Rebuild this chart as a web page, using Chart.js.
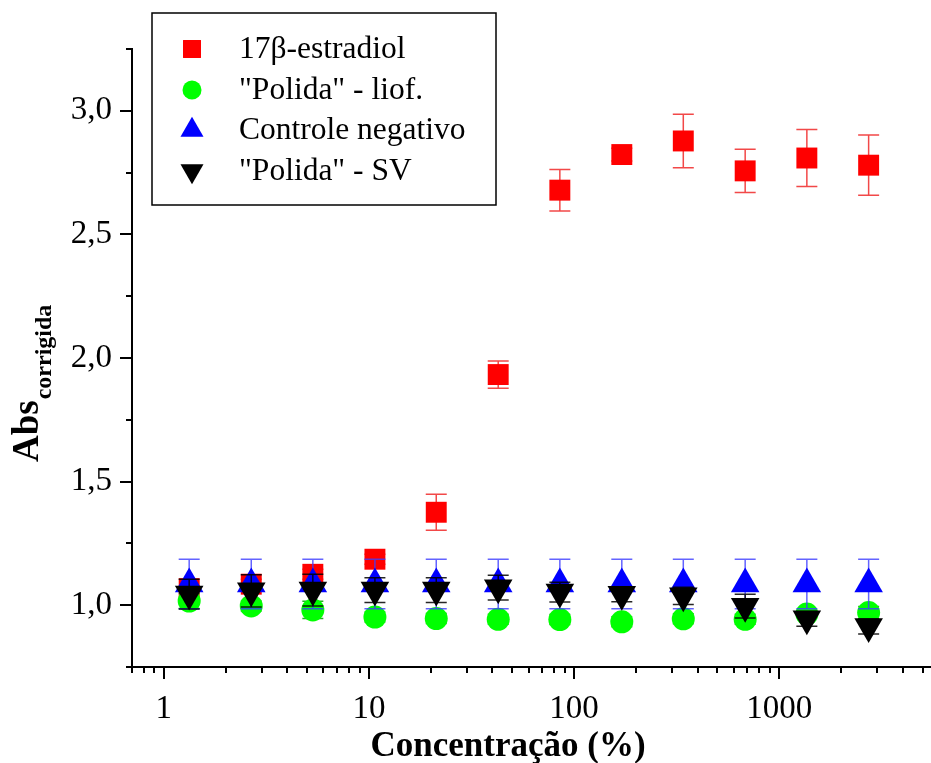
<!DOCTYPE html>
<html>
<head>
<meta charset="utf-8">
<title>Abs corrigida x Concentração</title>
<script src="https://cdn.jsdelivr.net/npm/chart.js"></script>
<style>
  html, body { margin: 0; padding: 0; background: #fff; }
  #chart { display: block; }
</style>
</head>
<body>
<canvas id="chart" width="931" height="763"></canvas>
<script>
// ---- Data ----
const concentrations = [1.33, 2.67, 5.33, 10.7, 21.3, 42.7, 85.3, 171, 341, 683, 1365, 2731];

const estradiol    = [1.067, 1.085, 1.125, 1.186, 1.376, 1.933, 2.679, 2.823, 2.878, 2.757, 2.809, 2.780];
const estradiolErr = [0.01, 0.02, 0.02, 0.02, 0.073, 0.055, 0.084, 0.026, 0.108, 0.087, 0.115, 0.122];

const polidaLiof    = [1.017, 0.997, 0.981, 0.952, 0.946, 0.943, 0.942, 0.933, 0.945, 0.943, 0.964, 0.970];
const polidaLiofErr = [0.03, 0.02, 0.035, 0.02, 0.02, 0.02, 0.02, 0.02, 0.02, 0.02, 0.01, 0.025];

const controleNeg    = [1.086, 1.086, 1.086, 1.086, 1.086, 1.086, 1.086, 1.086, 1.086, 1.086, 1.086, 1.086];
const controleNegErr = [0.1, 0.1, 0.1, 0.1, 0.1, 0.1, 0.1, 0.1, 0.1, 0.1, 0.1, 0.1];

const polidaSV    = [1.045, 1.058, 1.061, 1.061, 1.061, 1.071, 1.053, 1.044, 1.038, 0.996, 0.945, 0.914];
const polidaSVErr = [0.06, 0.065, 0.064, 0.05, 0.05, 0.05, 0.04, 0.03, 0.035, 0.048, 0.03, 0.03];

const seriesNames = ['17β-estradiol', '"Polida" - liof.', 'Controle negativo', '"Polida" - SV'];

// ---- Axes ----
const xMajorTicks = [1, 10, 100, 1000];
const xTickLabels = ['1', '10', '100', '1000'];
const yMajorTicks = [1.0, 1.5, 2.0, 2.5, 3.0];
const yTickLabels = ['1,0', '1,5', '2,0', '2,5', '3,0'];

const X_MIN = 0.7, X_MAX = 5500;
const Y_MIN = 0.75, Y_MAX = 3.25;

// minor ticks: 2..9 of every decade, 0.25 steps on y
const xTicks = [];
for (let d = 0.1; d <= 1000; d *= 10) {
  for (let m = 1; m <= 9; m++) {
    const v = Math.round(m * d * 1000) / 1000;
    if (v >= X_MIN && v <= X_MAX) xTicks.push(v);
  }
}
const yTicks = [];
for (let v = Y_MIN; v <= Y_MAX + 1e-9; v += 0.25) yTicks.push(Math.round(v * 100) / 100);

const SERIF = '"Liberation Serif", "Times New Roman", serif';

function toPoints(values) {
  return values.map((y, i) => ({ x: concentrations[i], y: y }));
}

// ---- Marker shapes (used for the legend) ----
function drawMarker(ctx, style, x, y, r, rotation) {
  ctx.beginPath();
  if (style === 'rect') {
    const s = r * Math.SQRT1_2;
    ctx.rect(x - s, y - s, 2 * s, 2 * s);
  } else if (style === 'circle') {
    ctx.arc(x, y, r, 0, Math.PI * 2);
  } else {
    let rad = (rotation || 0) * Math.PI / 180;
    ctx.moveTo(x + Math.sin(rad) * r, y - Math.cos(rad) * r);
    rad += 2 * Math.PI / 3;
    ctx.lineTo(x + Math.sin(rad) * r, y - Math.cos(rad) * r);
    rad += 2 * Math.PI / 3;
    ctx.lineTo(x + Math.sin(rad) * r, y - Math.cos(rad) * r);
    ctx.closePath();
  }
  ctx.fill();
}

// ---- Plugins ----
const errorBars = {
  id: 'errorBars',
  beforeDatasetDraw(chart, args) {
    const ds = chart.data.datasets[args.index];
    if (!ds.errors) return;
    const yScale = chart.scales.y;
    const ctx = chart.ctx;
    ctx.save();
    ctx.strokeStyle = ds.errorColor;
    ctx.lineWidth = 1.5;
    ctx.beginPath();
    args.meta.data.forEach((pt, i) => {
      const v = ds.data[i].y;
      const e = ds.errors[i];
      const top = yScale.getPixelForValue(v + e);
      const bot = yScale.getPixelForValue(v - e);
      ctx.moveTo(pt.x, top); ctx.lineTo(pt.x, bot);
      ctx.moveTo(pt.x - 10.5, top); ctx.lineTo(pt.x + 10.5, top);
      ctx.moveTo(pt.x - 10.5, bot); ctx.lineTo(pt.x + 10.5, bot);
    });
    ctx.stroke();
    ctx.restore();
  }
};

const tickMarks = {
  id: 'tickMarks',
  afterDraw(chart) {
    const { ctx, chartArea, scales } = chart;
    ctx.save();
    ctx.strokeStyle = '#000';
    ctx.lineWidth = 2;
    ctx.beginPath();
    scales.x.ticks.forEach(t => {
      const px = Math.round(scales.x.getPixelForValue(t.value));
      const len = t.label ? 12 : 6;
      ctx.moveTo(px, chartArea.bottom);
      ctx.lineTo(px, chartArea.bottom + len);
    });
    scales.y.ticks.forEach(t => {
      const py = Math.round(scales.y.getPixelForValue(t.value));
      const len = t.label ? 12 : 6;
      ctx.moveTo(chartArea.left, py);
      ctx.lineTo(chartArea.left - len, py);
    });
    ctx.stroke();
    ctx.restore();
  }
};

const axisTitles = {
  id: 'axisTitles',
  afterDraw(chart) {
    const ctx = chart.ctx;
    ctx.save();
    ctx.fillStyle = '#000';

    // x title
    ctx.font = 'bold 35px ' + SERIF;
    ctx.textAlign = 'center';
    ctx.textBaseline = 'alphabetic';
    ctx.fillText('Concentração (%)', 508, 756);

    // y title: Abs with subscript, rotated
    ctx.translate(38, 462);
    ctx.rotate(-Math.PI / 2);
    ctx.textAlign = 'left';
    ctx.font = 'bold 37px ' + SERIF;
    ctx.fillText('Abs', 0, 0);
    const w = ctx.measureText('Abs').width;
    ctx.font = 'bold 24px ' + SERIF;
    ctx.fillText('corrigida', w + 1, 13);
    ctx.restore();
  }
};

const legendBox = {
  id: 'legendBox',
  afterDraw(chart) {
    const ctx = chart.ctx;
    const rows = [49, 90, 130, 171];
    ctx.save();
    ctx.fillStyle = '#fff';
    ctx.fillRect(152, 13, 344, 192);
    ctx.strokeStyle = '#000';
    ctx.lineWidth = 1.5;
    ctx.strokeRect(152, 13, 344, 192);

    chart.data.datasets.forEach((ds, i) => {
      ctx.fillStyle = ds.backgroundColor;
      drawMarker(ctx, ds.pointStyle, 192, rows[i], ds.legendRadius, ds.rotation || 0);
      ctx.fillStyle = '#000';
      ctx.font = '31.5px ' + SERIF;
      ctx.textAlign = 'left';
      ctx.textBaseline = 'middle';
      ctx.fillText(ds.label, 239, rows[i] + 1);
    });
    ctx.restore();
  }
};

// ---- Chart ----
const datasets = [
  {
    label: seriesNames[0], data: toPoints(estradiol), errors: estradiolErr,
    backgroundColor: '#ff0000', errorColor: 'rgba(240,40,40,0.85)',
    pointStyle: 'rect', pointRadius: 14.8, legendRadius: 12.7, order: 4
  },
  {
    label: seriesNames[1], data: toPoints(polidaLiof), errors: polidaLiofErr,
    backgroundColor: '#00ff00', errorColor: 'rgba(0,160,0,0.85)',
    pointStyle: 'circle', pointRadius: 11.5, legendRadius: 9.5, order: 3
  },
  {
    label: seriesNames[2], data: toPoints(controleNeg), errors: controleNegErr,
    backgroundColor: '#0000ff', errorColor: 'rgba(60,60,255,0.8)',
    pointStyle: 'triangle', pointRadius: 16.5, legendRadius: 13.3, order: 2
  },
  {
    label: seriesNames[3], data: toPoints(polidaSV), errors: polidaSVErr,
    backgroundColor: '#000000', errorColor: 'rgba(0,0,0,0.85)',
    pointStyle: 'triangle', rotation: 180, pointRadius: 16.5, legendRadius: 13.3, order: 1
  }
];

datasets.forEach(ds => {
  ds.borderWidth = 0;
  ds.pointBorderWidth = 0;
  ds.borderColor = ds.backgroundColor;
  ds.pointRotation = ds.rotation || 0;
  ds.pointHoverRadius = ds.pointRadius;
  ds.showLine = false;
});

// the axis box is fixed by hand so the plot runs to the right edge like the original
function fixX(s) { s.height = 96; s.paddingLeft = 0; s.paddingRight = 0; }
function fixY(s) { s.width = 132; s.paddingTop = 0; s.paddingBottom = 0; }

new Chart(document.getElementById('chart').getContext('2d'), {
  type: 'scatter',
  data: { datasets: datasets },
  options: {
    responsive: false,
    animation: false,
    devicePixelRatio: 1,
    layout: { autoPadding: false, padding: { top: 49, right: 0, bottom: 0, left: 0 } },
    plugins: {
      legend: { display: false },
      tooltip: { enabled: false }
    },
    scales: {
      x: {
        type: 'logarithmic',
        min: X_MIN,
        max: X_MAX,
        afterBuildTicks: s => { s.ticks = xTicks.map(v => ({ value: v })); },
        afterFit: fixX,
        grid: { display: false, drawTicks: false, tickLength: 0 },
        border: { display: true, color: '#000', width: 2 },
        ticks: {
          autoSkip: false,
          maxRotation: 0,
          padding: 23,
          color: '#000',
          font: { family: SERIF, size: 33 },
          callback: v => {
            const i = xMajorTicks.indexOf(v);
            return i >= 0 ? xTickLabels[i] : '';
          }
        }
      },
      y: {
        min: Y_MIN,
        max: Y_MAX,
        afterBuildTicks: s => { s.ticks = yTicks.map(v => ({ value: v })); },
        afterFit: fixY,
        grid: { display: false, drawTicks: false, tickLength: 0 },
        border: { display: true, color: '#000', width: 2 },
        ticks: {
          autoSkip: false,
          padding: 20,
          color: '#000',
          font: { family: SERIF, size: 33 },
          callback: v => {
            const i = yMajorTicks.findIndex(t => Math.abs(t - v) < 1e-6);
            return i >= 0 ? yTickLabels[i] : '';
          }
        }
      }
    }
  },
  plugins: [errorBars, tickMarks, axisTitles, legendBox]
});
</script>
</body>
</html>
